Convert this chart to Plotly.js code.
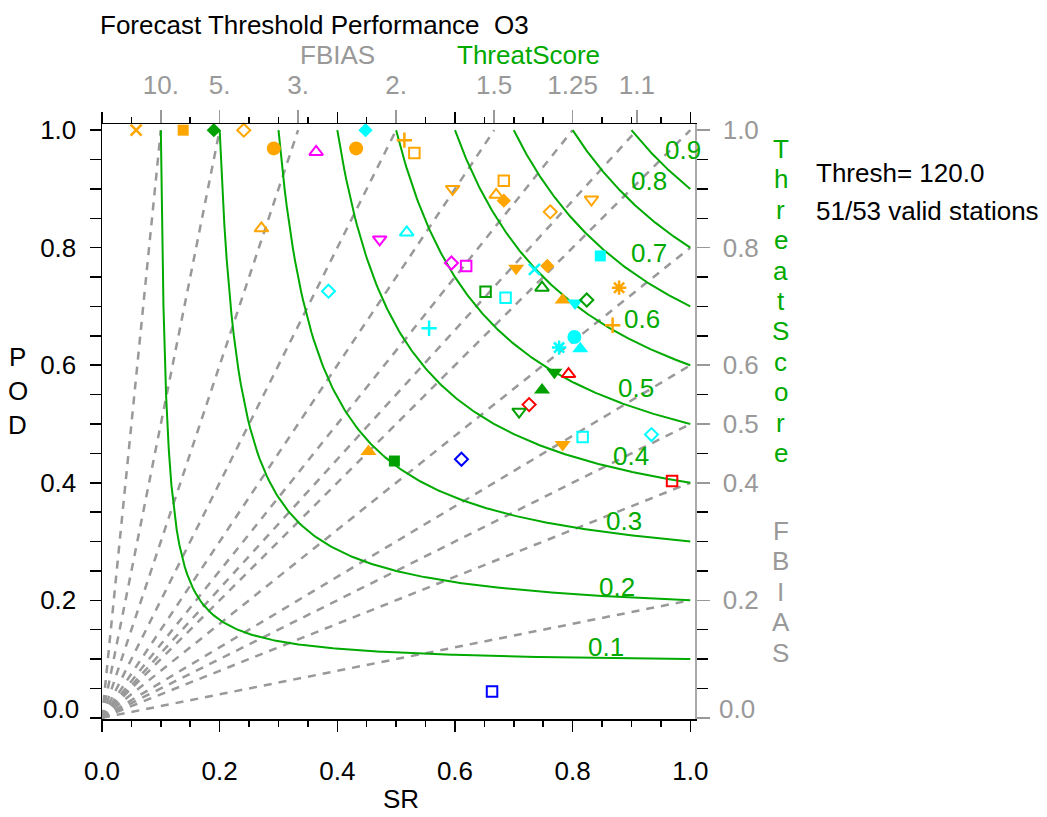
<!DOCTYPE html>
<html><head><meta charset="utf-8">
<script src="https://cdn.plot.ly/plotly-3.0.1.min.js"></script>
<style>html,body{margin:0;padding:0;background:#fff}#chart{width:1047px;height:817px}</style>
</head><body><div id="chart"></div>
<script>
// ---------------- data ----------------
const stationSR = [0.058,0.138,0.190,0.241,0.292,0.364,0.448,0.432,0.514,0.531,
  0.271,0.472,0.518,0.385,0.596,0.683,0.670,0.683,0.762,0.832,
  0.847,0.594,0.619,0.704,0.735,0.757,0.652,0.686,0.748,0.879,
  0.783,0.804,0.824,0.556,0.868,0.777,0.803,0.813,0.769,0.793,
  0.748,0.726,0.709,0.453,0.497,0.611,0.783,0.817,0.934,0.969,0.663];
const stationPOD = [1.0,1.0,1.0,1.0,0.969,0.963,1.0,0.969,0.983,0.961,
  0.833,0.814,0.826,0.726,0.900,0.914,0.890,0.880,0.861,0.882,
  0.786,0.774,0.769,0.765,0.763,0.769,0.725,0.715,0.732,0.732,
  0.711,0.706,0.711,0.663,0.668,0.630,0.648,0.628,0.588,0.585,
  0.558,0.533,0.521,0.453,0.437,0.440,0.465,0.478,0.482,0.403,0.045];
const stationSymbol = ['x-thin-open','square','diamond','diamond-open','circle','triangle-up-open','diamond','circle','cross-thin-open','square-open',
  'triangle-up-open','triangle-down-open','triangle-up-open','diamond-open','triangle-down-open','square-open','triangle-up-open','diamond','diamond-open','triangle-down-open',
  'square','diamond-open','square-open','triangle-down','x-thin-open','diamond','square-open','square-open','triangle-up-open','asterisk-open',
  'triangle-up','triangle-down','diamond-open','cross-thin-open','cross-thin-open','asterisk-open','circle','triangle-up','triangle-down','triangle-up-open',
  'triangle-up','diamond-open','triangle-down-open','triangle-up','square','diamond-open','triangle-down','square-open','diamond-open','square-open','square-open'];
const stationColor = ['orange','orange','green','orange','orange','magenta','cyan','orange','orange','orange',
  'orange','magenta','cyan','cyan','orange','orange','orange','orange','orange','orange',
  'cyan','magenta','magenta','orange','cyan','orange','green','cyan','green','orange',
  'orange','cyan','green','cyan','orange','cyan','cyan','cyan','green','red',
  'green','red','green','orange','green','blue','orange','cyan','cyan','red','blue'];

const fbiasValues = [10,5,3,2,1.5,1.25,1.1,1.0,0.8,0.6,0.5,0.4,0.2];
const fbiasTopTicks = [10,5,3,2,1.5,1.25,1.1];
const fbiasTopLabels = ["10.","5.","3.","2.","1.5","1.25","1.1"];
const fbiasRightTicks = [1.0,0.8,0.6,0.5,0.4,0.2,0.0];
const fbiasRightLabels = ["1.0","0.8","0.6","0.5","0.4","0.2",""];
const threatScores = [0.1,0.2,0.3,0.4,0.5,0.6,0.7,0.8,0.9];
const threatLabels = ["0.1","0.2","0.3","0.4","0.5","0.6","0.7","0.8","0.9"];
const srTicks = [0,0.2,0.4,0.6,0.8,1.0];
const srTickLabels = ["0.0","0.2","0.4","0.6","0.8","1.0"];
const podTicks = [0,0.2,0.4,0.6,0.8,1.0];
const podTickLabels = ["","0.2","0.4","0.6","0.8","1.0"];
const titleText = "Forecast Threshold Performance  O3";
const threshText = "Thresh= 120.0";
const validText = "51/53 valid stations";

// ---------------- styles ----------------
const COLORS = {orange:'#FFA500', cyan:'#00FFFF', magenta:'#FF00FF', green:'#00A000', red:'#FF0000', blue:'#0000FF'};
const GRAY = '#999999';
const TSGREEN = '#00AA00';
const FONT = '"Liberation Sans", Arial, Helvetica, sans-serif';
const FS = 26;
// label positions of threat score values (SR, POD) near curve ends
const tsLabelPos = [[0.857,0.120],[0.876,0.222],[0.888,0.335],[0.900,0.446],[0.908,0.562],[0.918,0.679],[0.929,0.791],[0.929,0.914],[0.987,0.966]];

function symSize(s){
  if (s.startsWith('circle')) return 14;
  if (s.startsWith('square')) return s.endsWith('open') ? 10.5 : 11;
  if (s.startsWith('diamond')) return s.endsWith('open') ? 10 : 11;
  if (s.startsWith('triangle')) return s.endsWith('open') ? 12 : 14;
  if (s.startsWith('x-thin') || s.startsWith('cross-thin')) return 11;
  if (s.startsWith('asterisk')) return 12;
  return 11;
}
function symLine(s){
  if (s.includes('thin') || s.startsWith('asterisk')) return 2.5;
  return s.endsWith('open') ? 2 : 0;
}

const traces = [];
// FBIAS dashed lines
fbiasValues.forEach(fb => {
  const xe = fb >= 1 ? 1/fb : 1;
  const ye = fb >= 1 ? 1 : fb;
  traces.push({type:'scatter', mode:'lines', x:[0,xe], y:[0,ye], hoverinfo:'skip',
    line:{color:GRAY, width:2.5, dash:'8px,7px'}, cliponaxis:false});
});
// Threat score curves
threatScores.forEach(t => {
  const xs = [], ys = [];
  const n = 200;
  for (let i=0;i<=n;i++){
    const sr = t + (1-t)*i/n;
    xs.push(sr); ys.push(Math.min(1, 1/(1/t + 1 - 1/sr)));
  }
  traces.push({type:'scatter', mode:'lines', x:xs, y:ys, hoverinfo:'skip',
    line:{color:TSGREEN, width:2}, cliponaxis:false});
});
// stations
const colArr = stationColor.map(c => COLORS[c]);
traces.push({type:'scatter', mode:'markers', x:stationSR, y:stationPOD, cliponaxis:false,
  marker:{symbol:stationSymbol, color:colArr, opacity:1, size:stationSymbol.map(symSize),
    line:{color:colArr, width:stationSymbol.map(symLine)}}});
// dummy trace for secondary axes
traces.push({type:'scatter', mode:'markers', x:[0.5], y:[0.5], xaxis:'x2', yaxis:'y2',
  marker:{opacity:0}, hoverinfo:'skip'});

// paper coordinates helpers (plot area 102..695 x, 124..719 y)
const L=102, R=352, T=124, B=98, W=1047-L-R, H=817-T-B;
const px = X => (X-L)/W;
const py = Y => (817-B-Y)/H;

const ann = [];
function addText(text, X, Y, color, xanchor, size){
  ann.push({text:text, xref:'paper', yref:'paper', x:px(X), y:py(Y), xanchor:xanchor||'center', yanchor:'middle',
    showarrow:false, font:{family:FONT, size:size||FS, color:color||'#000'}});
}
addText('FBIAS', 337, 55, GRAY);
addText('ThreatScore', 528, 55, TSGREEN);
addText(threshText, 814, 173, '#000', 'left');
addText(validText, 814, 211, '#000', 'left');
addText('SR', 401, 799, '#000');
'POD'.split('').forEach((ch,i) => addText(ch, 18, 357 + 34*i, '#000'));
'ThreatScore'.split('').forEach((ch,i) => addText(ch, 781, 149 + 30.4*i, TSGREEN));
'FBIAS'.split('').forEach((ch,i) => addText(ch, 781, 531 + 30.4*i, GRAY));
addText('0.0', 81, 709, '#000', 'right');
addText('0.0', 717, 709, GRAY, 'left');
threatScores.forEach((t,i) => {
  ann.push({text:threatLabels[i], xref:'x', yref:'y', x:tsLabelPos[i][0], y:tsLabelPos[i][1],
    xanchor:'center', yanchor:'middle', showarrow:false, font:{family:FONT, size:FS, color:TSGREEN}});
});

const xr = [0, 1.008], yr = [-0.002, 1.0105];
const layout = {
  width:1047, height:817,
  margin:{l:L, r:R, t:T, b:B, pad:0},
  paper_bgcolor:'#fff', plot_bgcolor:'#fff', showlegend:false,
  font:{family:FONT, size:FS, color:'#000'},
  title:{text:titleText, xref:'container', yref:'container', x:100/1047, xanchor:'left',
    y:1-25/817, yanchor:'middle', font:{family:FONT, size:FS, color:'#000'}},
  xaxis:{range:xr, tickmode:'array', tickvals:srTicks, ticktext:srTickLabels, ticks:'outside', ticklen:11, tickwidth:1.5, tickcolor:'#000',
    minor:{tickmode:'linear', tick0:0, dtick:0.05, ticks:'outside', ticklen:6, tickwidth:1.5, tickcolor:'#000', showgrid:false},
    showline:true, linecolor:'#000', linewidth:1.5, mirror:'allticks', showgrid:false, zeroline:false,
    tickfont:{family:FONT, size:FS, color:'#000'}, ticklabelstandoff:17, fixedrange:true},
  yaxis:{range:yr, tickmode:'array', tickvals:podTicks, ticktext:podTickLabels, ticks:'outside', ticklen:11, tickwidth:1.5, tickcolor:'#000',
    minor:{tickmode:'linear', tick0:0, dtick:0.05, ticks:'outside', ticklen:11, tickwidth:1.5, tickcolor:'#000', showgrid:false},
    showline:true, linecolor:'#000', linewidth:1.5, mirror:'allticks', showgrid:false, zeroline:false,
    tickfont:{family:FONT, size:FS, color:'#000'}, ticklabelstandoff:8, fixedrange:true},
  xaxis2:{overlaying:'x', side:'top', anchor:'y2', range:xr, tickmode:'array', tickvals:fbiasTopTicks.map(f=>1/f), ticktext:fbiasTopLabels,
    ticks:'outside', ticklen:13, tickwidth:1.5, tickcolor:GRAY, showline:false, showgrid:false, zeroline:false,
    tickfont:{family:FONT, size:FS, color:GRAY}, ticklabelstandoff:6, fixedrange:true},
  yaxis2:{overlaying:'y', side:'right', anchor:'x2', range:yr, tickmode:'array', tickvals:fbiasRightTicks, ticktext:fbiasRightLabels,
    ticks:'outside', ticklen:13, tickwidth:1.5, tickcolor:GRAY, showline:true, linecolor:'#AAAAAA', linewidth:1.5, showgrid:false, zeroline:false,
    tickfont:{family:FONT, size:FS, color:GRAY}, ticklabelstandoff:8, fixedrange:true},
  annotations: ann
};
Plotly.newPlot('chart', traces, layout, {staticPlot:true, displayModeBar:false});
</script>
</body></html>
